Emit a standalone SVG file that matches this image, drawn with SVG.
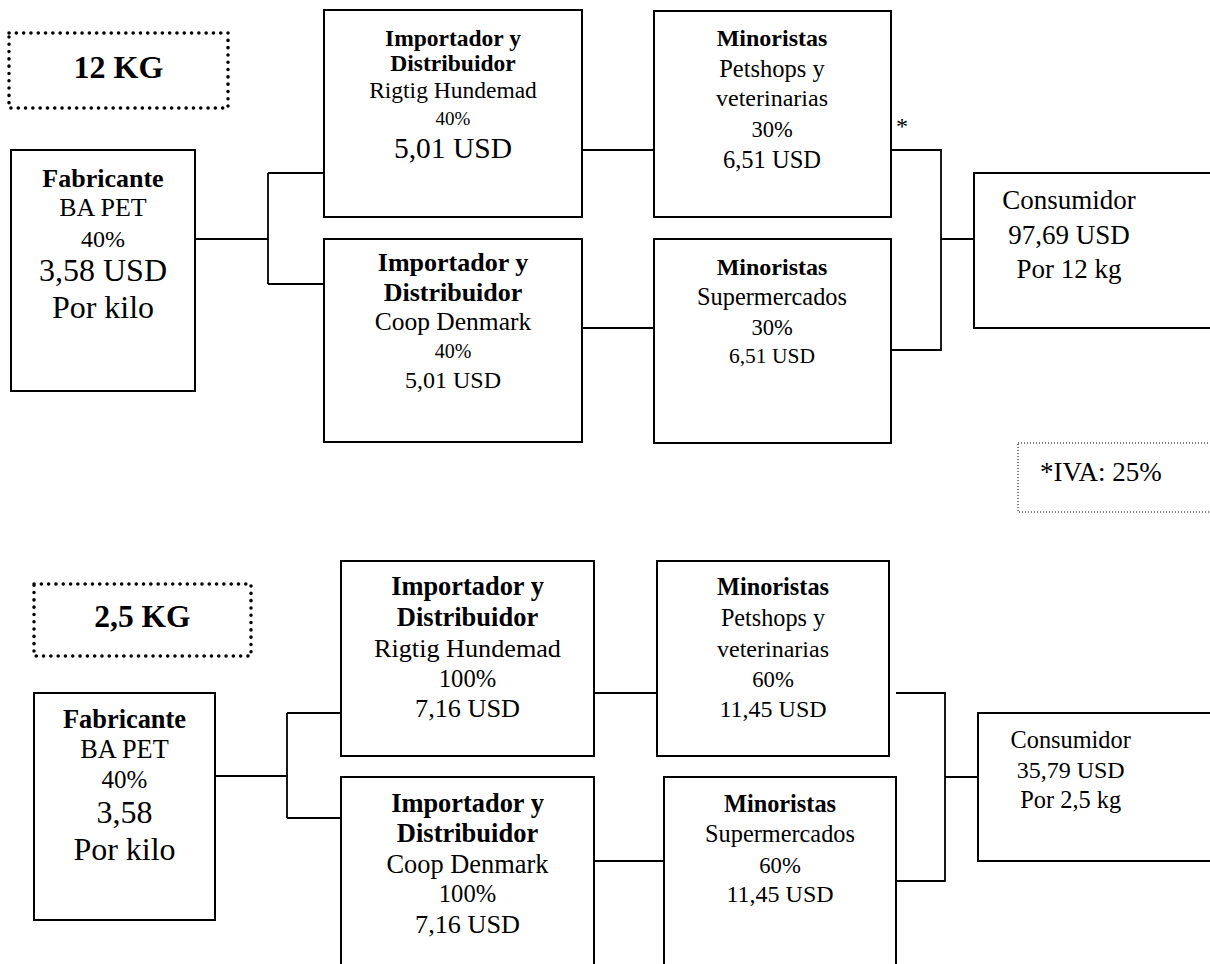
<svg xmlns="http://www.w3.org/2000/svg" width="1210" height="964" viewBox="0 0 1210 964">
<style>
text{font-family:"Liberation Serif","Times New Roman",serif;fill:#000;text-anchor:middle}
.b{font-weight:bold}
.box{fill:#fff;stroke:#000;stroke-width:2}
.dot{fill:none;stroke:#000;stroke-width:3.5;stroke-dasharray:0.1 7.2;stroke-linecap:round}
.fine{fill:none;stroke:#000;stroke-width:1;stroke-dasharray:1 2}
.con{fill:none;stroke:#000;stroke-width:1.8}
</style>
<rect width="1210" height="964" fill="#fff"/>

<g id="connectors">
<path class="con" d="M195,239H268M268,173V284M268,173H324M268,284H324"/>
<path class="con" d="M582,150H654"/>
<path class="con" d="M582,328H654"/>
<path class="con" d="M891,150H941V350H891M941,239H974"/>
<path class="con" d="M215,776H287M287,713V818M287,713H341M287,818H341"/>
<path class="con" d="M594,693H657"/>
<path class="con" d="M594,861H664"/>
<path class="con" d="M896,693H945V881H896M945,777H978"/>
</g>

<g id="label-12kg">
<rect class="dot" x="9" y="33" width="219" height="75"/>
<text class="b" x="118.5" y="78" font-size="32">12 KG</text>
</g>

<g id="fab1">
<rect class="box" x="11" y="150" width="184" height="241"/>
<text class="b" x="103" y="187" font-size="26">Fabricante</text>
<text x="103" y="216" font-size="26">BA PET</text>
<text x="103" y="247" font-size="24">40%</text>
<text x="103" y="281" font-size="32">3,58 USD</text>
<text x="103" y="318" font-size="32">Por kilo</text>
</g>

<g id="imp1">
<rect class="box" x="324" y="10" width="258" height="207"/>
<text class="b" x="453" y="46" font-size="23.5">Importador y</text>
<text class="b" x="453" y="71" font-size="23.5">Distribuidor</text>
<text x="453" y="98" font-size="23.5">Rigtig Hundemad</text>
<text x="453" y="125" font-size="19">40%</text>
<text x="453" y="158" font-size="29.5">5,01 USD</text>
</g>

<g id="imp2">
<rect class="box" x="324" y="239" width="258" height="203"/>
<text class="b" x="453" y="271" font-size="26">Importador y</text>
<text class="b" x="453" y="301" font-size="26">Distribuidor</text>
<text x="453" y="330" font-size="25.5">Coop Denmark</text>
<text x="453" y="358" font-size="20">40%</text>
<text x="453" y="388" font-size="24">5,01 USD</text>
</g>

<g id="min1">
<rect class="box" x="654" y="11" width="237" height="206"/>
<text class="b" x="772" y="46" font-size="24">Minoristas</text>
<text x="772" y="77" font-size="24.5">Petshops y</text>
<text x="772" y="106" font-size="24">veterinarias</text>
<text x="772" y="137" font-size="22.5">30%</text>
<text x="772" y="168" font-size="24.5">6,51 USD</text>
</g>

<g id="min2">
<rect class="box" x="654" y="239" width="237" height="204"/>
<text class="b" x="772" y="275" font-size="24">Minoristas</text>
<text x="772" y="305" font-size="24.3">Supermercados</text>
<text x="772" y="335" font-size="22.5">30%</text>
<text x="772" y="363" font-size="21.5">6,51 USD</text>
</g>

<g id="asterisk">
<text x="902" y="134" font-size="24">*</text>
</g>

<g id="cons1">
<rect class="box" x="974" y="173" width="260" height="155"/>
<text x="1069" y="209" font-size="27">Consumidor</text>
<text x="1069" y="244" font-size="27">97,69 USD</text>
<text x="1069" y="278" font-size="27">Por 12 kg</text>
</g>

<g id="iva">
<rect class="fine" x="1018" y="443" width="220" height="69"/>
<text x="1040" y="481" font-size="27" style="text-anchor:start">*IVA: 25%</text>
</g>

<g id="label-25kg">
<rect class="dot" x="34" y="584" width="217" height="72"/>
<text class="b" x="142.5" y="627" font-size="31.5">2,5 KG</text>
</g>

<g id="fab2">
<rect class="box" x="34" y="693" width="181" height="227"/>
<text class="b" x="124.5" y="728" font-size="26.4">Fabricante</text>
<text x="124.5" y="758" font-size="26.3">BA PET</text>
<text x="124.5" y="788" font-size="25">40%</text>
<text x="124.5" y="823" font-size="32">3,58</text>
<text x="124.5" y="860" font-size="32">Por kilo</text>
</g>

<g id="imp3">
<rect class="box" x="341" y="561" width="253" height="195"/>
<text class="b" x="467.5" y="595" font-size="26.4">Importador y</text>
<text class="b" x="467.5" y="626" font-size="26.5">Distribuidor</text>
<text x="467.5" y="657" font-size="26.2">Rigtig Hundemad</text>
<text x="467.5" y="687" font-size="24.6">100%</text>
<text x="467.5" y="717" font-size="26.2">7,16 USD</text>
</g>

<g id="imp4">
<rect class="box" x="341" y="777" width="253" height="210"/>
<text class="b" x="467.5" y="812" font-size="26.4">Importador y</text>
<text class="b" x="467.5" y="842" font-size="26.5">Distribuidor</text>
<text x="467.5" y="873" font-size="26.4">Coop Denmark</text>
<text x="467.5" y="902" font-size="24.6">100%</text>
<text x="467.5" y="933" font-size="26.2">7,16 USD</text>
</g>

<g id="min3">
<rect class="box" x="657" y="561" width="232" height="195"/>
<text class="b" x="773" y="595" font-size="24.3">Minoristas</text>
<text x="773" y="626" font-size="24.2">Petshops y</text>
<text x="773" y="657" font-size="24">veterinarias</text>
<text x="773" y="687" font-size="22.7">60%</text>
<text x="773" y="717" font-size="24">11,45 USD</text>
</g>

<g id="min4">
<rect class="box" x="664" y="777" width="232" height="210"/>
<text class="b" x="780" y="812" font-size="24.3">Minoristas</text>
<text x="780" y="842" font-size="24.3">Supermercados</text>
<text x="780" y="873" font-size="22.7">60%</text>
<text x="780" y="902" font-size="24">11,45 USD</text>
</g>

<g id="cons2">
<rect class="box" x="978" y="713" width="260" height="148"/>
<text x="1070.7" y="748" font-size="24.3">Consumidor</text>
<text x="1070.7" y="778" font-size="24">35,79 USD</text>
<text x="1070.7" y="808" font-size="24.4">Por 2,5 kg</text>
</g>
</svg>
